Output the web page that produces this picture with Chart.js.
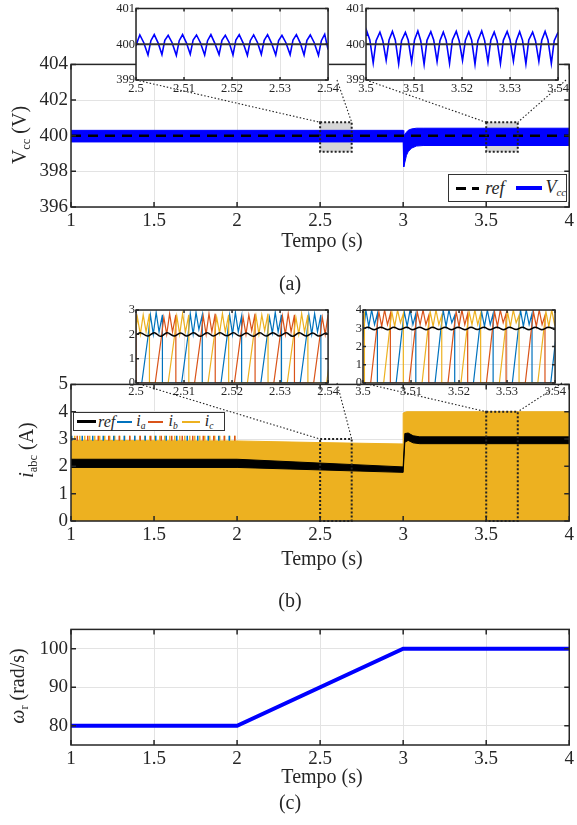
<!DOCTYPE html>
<html>
<head>
<meta charset="utf-8">
<title>Vcc, iabc e wr</title>
<script src="https://cdn.jsdelivr.net/npm/chart.js"></script>
<style>
  body { margin:0; width:577px; height:825px; position:relative; background:#fff; overflow:hidden;
         font-family:'Liberation Serif','Times New Roman',serif; color:#262626; }
  canvas { position:absolute; }
  .lbl { position:absolute; white-space:nowrap; transform:translate(-50%,-50%); font-size:20px; }
  .ylbl { transform:translate(-50%,-50%) rotate(-90deg); }
  .lbl sub { font-size:0.62em; vertical-align:-0.25em; }
  .legend { position:absolute; background:#fff; border:1px solid #333; display:flex; align-items:center; box-sizing:border-box; white-space:nowrap; }
  .legend sub { font-size:0.6em; vertical-align:-0.3em; }
  .sw { display:inline-block; }
</style>
</head>
<body>
<canvas id="mainA"></canvas>
<canvas id="mainB"></canvas>
<canvas id="mainC"></canvas>
<canvas id="insA1"></canvas>
<canvas id="insA2"></canvas>
<canvas id="insB1"></canvas>
<canvas id="insB2"></canvas>

<div class="lbl ylbl" style="left:21px;top:135px;">V<sub>cc</sub>&nbsp;(V)</div>
<div class="lbl" style="left:322px;top:240px;">Tempo (s)</div>
<div class="lbl" style="left:290px;top:283px;">(a)</div>
<div class="legend" style="left:448px;top:174px;width:119px;height:28px;font-size:18px;">
  <span class="sw" style="width:26px;height:3px;margin:0 6px 0 7px;background:repeating-linear-gradient(90deg,#000 0 10px,transparent 10px 16px);"></span><i>ref</i>
  <span class="sw" style="width:30px;height:4px;margin:0 3px 0 11px;background:#0000ff;"></span><i>V<sub>cc</sub></i>
</div>

<div class="lbl ylbl" style="left:28px;top:450px;"><i>i</i><sub>abc</sub>&nbsp;(A)</div>
<div class="lbl" style="left:322px;top:558px;">Tempo (s)</div>
<div class="lbl" style="left:290px;top:600px;">(b)</div>
<div class="legend" style="left:73px;top:412px;width:152px;height:19px;font-size:16px;">
  <span class="sw" style="width:19px;height:3px;margin:0 2px 0 3px;background:#000;"></span><i>ref</i>
  <span class="sw" style="width:15px;height:2px;margin:0 4px 0 2px;background:#0072BD;"></span><i>i<sub>a</sub></i>
  <span class="sw" style="width:15px;height:2px;margin:0 5px 0 3px;background:#D95319;"></span><i>i<sub>b</sub></i>
  <span class="sw" style="width:18px;height:2px;margin:0 5px 0 4px;background:#EDB120;"></span><i>i<sub>c</sub></i>
</div>

<div class="lbl ylbl" style="left:19px;top:686px;"><i>ω</i><sub>r</sub>&nbsp;(rad/s)</div>
<div class="lbl" style="left:322px;top:776px;">Tempo (s)</div>
<div class="lbl" style="left:290px;top:802px;">(c)</div>

<script>
// ---- data ----
const timeTicks = [1, 1.5, 2, 2.5, 3, 3.5, 4];

// (a) Vcc envelope and reference
const vccT  = [1, 3.0, 3.002, 3.005, 3.01, 3.02, 3.03, 3.05, 3.08, 3.12, 4];
const vccUp = [400.3, 400.3, 400.02, 400.0, 400.08, 400.2, 400.3, 400.38, 400.42, 400.42, 400.42];
const vccLo = [399.65, 399.65, 398.8, 398.25, 398.5, 398.9, 399.1, 399.3, 399.42, 399.45, 399.45];
const refAT = [1, 4];
const refAV = [400, 400];
const vccTicks = [396, 398, 400, 402, 404];

// (a) zoom insets
const zoomTicksA1 = [2.5, 2.51, 2.52, 2.53, 2.54];
const zoomTicksA2 = [3.5, 3.51, 3.52, 3.53, 3.54];
const zoomTicksVcc = [399, 400, 401];
const vccZoom1 = [[2.5000,399.95],[2.5004,400.12],[2.5008,400.26],[2.5016,400.05],[2.5025,399.70],[2.5031,400.10],[2.5038,400.27],
  [2.5046,400.04],[2.5054,399.71],[2.5060,400.11],[2.5067,400.25],[2.5075,400.05],[2.5084,399.69],[2.5090,400.10],[2.5097,400.27],
  [2.5105,400.04],[2.5113,399.72],[2.5119,400.12],[2.5126,400.26],[2.5134,400.05],[2.5143,399.70],[2.5149,400.10],[2.5156,400.27],
  [2.5164,400.03],[2.5173,399.71],[2.5179,400.11],[2.5186,400.25],[2.5194,400.05],[2.5202,399.70],[2.5208,400.12],[2.5215,400.27],
  [2.5223,400.04],[2.5232,399.69],[2.5238,400.10],[2.5245,400.26],[2.5253,400.05],[2.5261,399.72],[2.5267,400.11],[2.5274,400.27],
  [2.5282,400.04],[2.5291,399.70],[2.5297,400.10],[2.5304,400.25],[2.5312,400.05],[2.5321,399.71],[2.5327,400.12],[2.5334,400.27],
  [2.5342,400.04],[2.5350,399.70],[2.5356,400.11],[2.5363,400.26],[2.5371,400.05],[2.5380,399.69],[2.5386,400.10],[2.5393,400.28],[2.5400,399.85]];
const vccZoom2 = [[3.5000,400.25],[3.5002,400.35],[3.5008,400.12],[3.5015,399.48],[3.5021,400.10],[3.5029,400.34],
  [3.5035,400.10],[3.5042,399.55],[3.5048,400.12],[3.5055,400.36],[3.5061,400.12],[3.5068,399.45],[3.5074,400.10],[3.5082,400.33],
  [3.5088,400.11],[3.5095,399.50],[3.5101,400.12],[3.5108,400.37],[3.5114,400.10],[3.5121,399.44],[3.5127,400.11],[3.5135,400.35],
  [3.5141,400.12],[3.5148,399.52],[3.5154,400.10],[3.5161,400.34],[3.5167,400.11],[3.5174,399.46],[3.5180,400.12],[3.5188,400.36],
  [3.5194,400.10],[3.5201,399.55],[3.5207,400.11],[3.5214,400.35],[3.5220,400.12],[3.5227,399.44],[3.5233,400.10],[3.5241,400.37],
  [3.5247,400.11],[3.5254,399.50],[3.5260,400.12],[3.5267,400.34],[3.5273,400.10],[3.5280,399.46],[3.5286,400.11],[3.5294,400.36],
  [3.5300,400.12],[3.5307,399.53],[3.5313,400.10],[3.5320,400.35],[3.5326,400.11],[3.5333,399.45],[3.5339,400.12],[3.5347,400.34],
  [3.5353,400.10],[3.5360,399.52],[3.5366,400.11],[3.5373,400.36],[3.5379,400.12],[3.5386,399.46],[3.5392,400.10],[3.5400,400.33]];

// (b) currents: envelope of phases and reference band
const iEnvT = [1, 2, 2.5, 3.0, 3.0, 3.02, 4];
const iEnvV = [2.95, 2.93, 2.87, 2.82, 3.95, 4.0, 4.0];
const spikeT = [1, 2];
const spikeV = [3.03, 3.03];
const refBT  = [1, 2, 3.0, 3.01, 3.03, 3.06, 3.1, 4];
const refBUp = [2.26, 2.26, 1.98, 3.2, 3.22, 3.12, 3.08, 3.08];
const refBLo = [1.96, 1.96, 1.78, 2.88, 2.95, 2.86, 2.83, 2.83];
const iTicks = [0, 1, 2, 3, 4, 5];

// (b) zoom insets
const zoomTicksB1 = [0, 1, 2, 3];
const zoomTicksB2 = [0, 1, 2, 3, 4];
const icZoom1 = [[2.4985,0],[2.4998,1.9],[2.5003,2.7],[2.5009,2.0],[2.5015,2.8],[2.5021,2.1],[2.5028,2.85],[2.5028,0],
  [2.5067,0],[2.5080,1.9],[2.5085,2.75],[2.5091,2.0],[2.5097,2.85],[2.5103,2.1],[2.5110,2.8],[2.5110,0],
  [2.5150,0],[2.5163,1.9],[2.5168,2.7],[2.5174,2.05],[2.5180,2.85],[2.5186,2.1],[2.5193,2.8],[2.5193,0],
  [2.5232,0],[2.5245,1.95],[2.5250,2.75],[2.5256,2.0],[2.5262,2.8],[2.5268,2.15],[2.5275,2.85],[2.5275,0],
  [2.5315,0],[2.5328,1.9],[2.5333,2.7],[2.5339,2.0],[2.5345,2.85],[2.5351,2.1],[2.5358,2.8],[2.5358,0],
  [2.5397,0],[2.5410,1.9]];
const iaZoom1 = [[2.4973,0],
  [2.5012,0],[2.5025,1.9],[2.5030,2.8],[2.5036,2.0],[2.5042,2.9],[2.5048,2.1],[2.5055,2.8],[2.5055,0],
  [2.5095,0],[2.5108,1.9],[2.5113,2.85],[2.5119,2.0],[2.5125,2.9],[2.5131,2.2],[2.5138,2.8],[2.5138,0],
  [2.5177,0],[2.5190,1.95],[2.5195,2.8],[2.5201,2.0],[2.5207,2.9],[2.5213,2.1],[2.5220,2.75],[2.5220,0],
  [2.5260,0],[2.5273,1.9],[2.5278,2.7],[2.5284,2.05],[2.5290,2.9],[2.5296,2.1],[2.5303,2.8],[2.5303,0],
  [2.5342,0],[2.5355,1.9],[2.5360,2.8],[2.5366,2.0],[2.5372,2.85],[2.5378,2.1],[2.5385,2.8],[2.5385,0],
  [2.5420,0]];
const ibZoom1 = [[2.4990,2.5],[2.5000,2.8],[2.5000,0],
  [2.5040,0],[2.5053,1.9],[2.5058,2.7],[2.5064,2.0],[2.5070,2.85],[2.5076,2.1],[2.5083,2.8],[2.5083,0],
  [2.5122,0],[2.5135,1.9],[2.5140,2.75],[2.5146,2.0],[2.5152,2.85],[2.5158,2.1],[2.5165,2.85],[2.5165,0],
  [2.5205,0],[2.5218,1.95],[2.5223,2.7],[2.5229,2.0],[2.5235,2.8],[2.5241,2.15],[2.5248,2.85],[2.5248,0],
  [2.5287,0],[2.5300,1.9],[2.5305,2.75],[2.5311,2.0],[2.5317,2.85],[2.5323,2.1],[2.5330,2.8],[2.5330,0],
  [2.5370,0],[2.5383,1.9],[2.5388,2.7],[2.5394,2.0],[2.5400,2.8],[2.5406,2.1]];
const refZoom1 = [[2.5000,1.98],[2.5010,2.06],[2.5024,1.93],[2.5038,2.07],[2.5051,1.92],[2.5065,2.06],[2.5079,1.93],[2.5093,2.05],
  [2.5106,1.93],[2.5120,2.06],[2.5134,1.92],[2.5148,2.07],[2.5161,1.93],[2.5175,2.06],[2.5189,1.94],[2.5203,2.06],[2.5216,1.93],
  [2.5230,2.05],[2.5244,1.92],[2.5258,2.06],[2.5271,1.93],[2.5285,2.07],[2.5299,1.93],[2.5313,2.06],[2.5326,1.92],[2.5340,2.06],
  [2.5354,1.93],[2.5368,2.05],[2.5381,1.93],[2.5395,2.05],[2.5400,2.0]];
const icZoom2 = [[3.4962,0],[3.4974,2.8],[3.4979,3.9],[3.4985,3.1],[3.4991,4.0],[3.4997,3.2],[3.5003,3.8],[3.5003,0],
  [3.5043,0],[3.5055,2.8],[3.5060,3.9],[3.5066,3.1],[3.5072,4.0],[3.5078,3.3],[3.5084,3.8],[3.5084,0],
  [3.5123,0],[3.5135,2.9],[3.5140,3.9],[3.5146,3.1],[3.5152,4.0],[3.5158,3.2],[3.5164,3.7],[3.5164,0],
  [3.5204,0],[3.5216,2.8],[3.5221,3.9],[3.5227,3.2],[3.5233,4.0],[3.5239,3.2],[3.5245,3.8],[3.5245,0],
  [3.5284,0],[3.5296,2.8],[3.5301,3.9],[3.5307,3.1],[3.5313,4.0],[3.5319,3.3],[3.5325,3.7],[3.5325,0],
  [3.5364,0],[3.5376,2.8],[3.5381,3.9],[3.5387,3.1],[3.5393,4.0],[3.5399,3.2],[3.5405,3.8]];
const iaZoom2 = [[3.4989,0],[3.5001,2.8],[3.5006,4.0],[3.5012,3.1],[3.5018,4.0],[3.5024,3.2],[3.5030,3.8],[3.5030,0],
  [3.5069,0],[3.5081,2.8],[3.5086,3.9],[3.5092,3.1],[3.5098,4.0],[3.5104,3.2],[3.5110,3.8],[3.5110,0],
  [3.5150,0],[3.5162,2.9],[3.5167,4.0],[3.5173,3.1],[3.5179,4.0],[3.5185,3.3],[3.5191,3.7],[3.5191,0],
  [3.5230,0],[3.5242,2.8],[3.5247,3.9],[3.5253,3.1],[3.5259,4.0],[3.5265,3.2],[3.5271,3.8],[3.5271,0],
  [3.5311,0],[3.5323,2.8],[3.5328,4.0],[3.5334,3.1],[3.5340,4.0],[3.5346,3.2],[3.5352,3.8],[3.5352,0],
  [3.5391,0],[3.5403,2.8]];
const ibZoom2 = [[3.4976,0],
  [3.5016,0],[3.5028,2.8],[3.5033,3.9],[3.5039,3.1],[3.5045,4.0],[3.5051,3.2],[3.5057,3.8],[3.5057,0],
  [3.5096,0],[3.5108,2.8],[3.5113,3.9],[3.5119,3.2],[3.5125,4.0],[3.5131,3.2],[3.5137,3.7],[3.5137,0],
  [3.5177,0],[3.5189,2.9],[3.5194,3.9],[3.5200,3.1],[3.5206,4.0],[3.5212,3.2],[3.5218,3.8],[3.5218,0],
  [3.5257,0],[3.5269,2.8],[3.5274,3.9],[3.5280,3.1],[3.5286,4.0],[3.5292,3.3],[3.5298,3.8],[3.5298,0],
  [3.5338,0],[3.5350,2.8],[3.5355,3.9],[3.5361,3.1],[3.5367,4.0],[3.5373,3.2],[3.5379,3.7],[3.5379,0],
  [3.5418,0]];
const refZoom2 = [[3.5000,2.96],[3.5010,3.05],[3.5024,2.92],[3.5037,3.06],[3.5051,2.92],[3.5064,3.05],[3.5077,2.93],[3.5091,3.05],
  [3.5104,2.92],[3.5118,3.06],[3.5131,2.92],[3.5145,3.05],[3.5158,2.93],[3.5171,3.05],[3.5185,2.92],[3.5198,3.06],[3.5212,2.92],
  [3.5225,3.05],[3.5238,2.93],[3.5252,3.05],[3.5265,2.92],[3.5279,3.06],[3.5292,2.92],[3.5305,3.05],[3.5319,2.93],[3.5332,3.05],
  [3.5346,2.92],[3.5359,3.06],[3.5372,2.92],[3.5386,3.05],[3.5400,2.93]];

// (c) rotor speed
const wT = [1, 2, 3, 4];
const wV = [80, 80, 100, 100];
const wTicks = [80, 90, 100];

// zoom windows marked on the main plots
const zoomA = [{ x: [2.5, 2.69], y: [399.1, 400.75] }, { x: [3.5, 3.69], y: [399.1, 400.75] }];
const zoomB = [{ x: [2.5, 2.69], y: [0, 3.0] }, { x: [3.5, 3.69], y: [0, 4.0] }];

// ---- drawing ----
const FONT = '"Liberation Serif", "Times New Roman", serif';
const BLUE = '#0000ff', CA = '#0072BD', CB = '#D95319', CC = '#EDB120';
const zip = (t, v) => t.map((x, i) => [x, v[i]]);
const fmt = v => String(+(+v).toFixed(2));
Chart.defaults.font.family = FONT;

// box with inward ticks on all sides, like a MATLAB axes
Chart.register({
  id: 'frame',
  beforeDraw(chart, args, o) {
    if (!o.bg) return;
    const a = chart.chartArea, ctx = chart.ctx;
    ctx.save(); ctx.fillStyle = o.bg; ctx.fillRect(a.left, a.top, a.width, a.height); ctx.restore();
  },
  afterDraw(chart, args, o) {
    const { ctx, chartArea: a, scales: { x, y } } = chart;
    const L = o.tick || 5;
    ctx.save();
    ctx.strokeStyle = '#262626'; ctx.lineWidth = o.lw || 1.5;
    ctx.beginPath();
    x.ticks.forEach(t => {
      const p = x.getPixelForValue(t.value);
      ctx.moveTo(p, a.bottom); ctx.lineTo(p, a.bottom - L);
      ctx.moveTo(p, a.top); ctx.lineTo(p, a.top + L);
    });
    y.ticks.forEach(t => {
      const p = y.getPixelForValue(t.value);
      ctx.moveTo(a.left, p); ctx.lineTo(a.left + L, p);
      ctx.moveTo(a.right, p); ctx.lineTo(a.right - L, p);
    });
    ctx.stroke();
    ctx.strokeRect(a.left, a.top, a.width, a.height);
    ctx.restore();
  }
});

// shaded / dotted zoom rectangles and the dotted leader lines to the insets
Chart.register({
  id: 'zoomBoxes',
  beforeDatasetsDraw(chart, args, o) {
    if (!o.boxes || !o.fill) return;
    const { ctx, scales: { x, y } } = chart;
    ctx.save();
    o.boxes.forEach(b => {
      const x0 = x.getPixelForValue(b.x[0]), x1 = x.getPixelForValue(b.x[1]);
      const y0 = y.getPixelForValue(b.y[0]), y1 = y.getPixelForValue(b.y[1]);
      ctx.fillStyle = o.fill; ctx.fillRect(x0, y1, x1 - x0, y0 - y1);
    });
    ctx.restore();
  },
  afterDraw(chart, args, o) {
    if (!o.boxes) return;
    const { ctx, scales: { x, y } } = chart;
    ctx.save();
    o.boxes.forEach((b, i) => {
      const x0 = x.getPixelForValue(b.x[0]), x1 = x.getPixelForValue(b.x[1]);
      const y0 = y.getPixelForValue(b.y[0]), y1 = y.getPixelForValue(b.y[1]);
      ctx.strokeStyle = '#222'; ctx.lineWidth = 2; ctx.setLineDash([2, 2]);
      ctx.strokeRect(x0, y1, x1 - x0, y0 - y1);
      const ins = o.insets[i];
      ctx.lineWidth = 1.1; ctx.setLineDash([1.5, 2]);
      ctx.beginPath();
      ctx.moveTo(ins[0] - o.origin[0], ins[2] - o.origin[1]); ctx.lineTo(x0, y1);
      ctx.moveTo(ins[1] - o.origin[0], ins[2] - o.origin[1]); ctx.lineTo(x1, y1);
      ctx.stroke();
    });
    ctx.restore();
  }
});

function make(id, pos, ax, datasets, extra) {
  const cv = document.getElementById(id);
  cv.width = pos.w; cv.height = pos.h;
  cv.style.left = pos.left + 'px'; cv.style.top = pos.top + 'px';
  const font = { family: FONT, size: ax.fs };
  return new Chart(cv, {
    type: 'line',
    data: { datasets },
    options: {
      responsive: false, animation: false, events: [],
      layout: { autoPadding: false, padding: { top: pos.padT, right: pos.padR, left: 0, bottom: 0 } },
      elements: { point: { radius: 0 } },
      scales: {
        x: {
          type: 'linear', min: ax.xMin, max: ax.xMax,
          afterBuildTicks: s => { s.ticks = ax.xTicks.map(v => ({ value: v })); },
          afterFit: s => { s.height = ax.xH; },
          grid: { color: '#e3e3e3', drawTicks: false },
          border: { display: false },
          ticks: { font, color: '#262626', padding: ax.xPad, maxRotation: 0, autoSkip: false, callback: fmt }
        },
        y: {
          type: 'linear', min: ax.yMin, max: ax.yMax,
          afterBuildTicks: s => { s.ticks = ax.yTicks.map(v => ({ value: v })); },
          afterFit: s => { s.width = ax.yW; },
          grid: { color: '#e3e3e3', drawTicks: false },
          border: { display: false },
          ticks: { font, color: '#262626', padding: ax.yPad, autoSkip: false, callback: fmt }
        }
      },
      plugins: Object.assign({ legend: { display: false }, tooltip: { enabled: false } }, extra)
    }
  });
}

const line = (data, color, width, more) =>
  Object.assign({ data, borderColor: color, backgroundColor: color, borderWidth: width, fill: false, tension: 0, pointRadius: 0 }, more || {});

const mainAx = { xMin: 1, xMax: 4, xTicks: timeTicks, fs: 19, yW: 71, xPad: 3, yPad: 3 };

// (a)
make('mainA', { left: 0, top: 50, w: 577, h: 180, padT: 14, padR: 4 },
  Object.assign({}, mainAx, { yMin: 396, yMax: 404, yTicks: vccTicks, xH: 23 }),
  [
    line(zip(refAT, refAV), '#000', 2.5, { borderDash: [10, 7] }),
    line(zip(vccT, vccUp), BLUE, 1, { fill: '+1' }),
    line(zip(vccT, vccLo), BLUE, 1)
  ],
  { frame: { tick: 5 }, zoomBoxes: { boxes: zoomA, fill: '#d6d6d6', origin: [0, 50], insets: [[136, 337, 80], [366, 566, 80]] } });

// (b)
make('mainB', { left: 0, top: 370, w: 577, h: 180, padT: 10, padR: 4 },
  Object.assign({}, mainAx, { yMin: 0, yMax: 5, yTicks: iTicks, xH: 29 }),
  [
    line(zip(refBT, refBUp), '#000', 1, { fill: '+1' }),
    line(zip(refBT, refBLo), '#000', 1),
    line(zip(spikeT, spikeV), CA, 5, { borderDash: [1.5, 9], borderDashOffset: 0 }),
    line(zip(spikeT, spikeV), CB, 5, { borderDash: [1.5, 9], borderDashOffset: 5 }),
    line(zip(spikeT, spikeV), CC, 5, { borderDash: [1.5, 3.5], borderDashOffset: 2 }),
    line(zip(iEnvT, iEnvV), CC, 1, { fill: 'origin' })
  ],
  { frame: { tick: 5 }, zoomBoxes: { boxes: zoomB, origin: [0, 370], insets: [[136, 337, 383], [363, 562, 383]] } });

// (c)
make('mainC', { left: 0, top: 615, w: 577, h: 160, padT: 12, padR: 4 },
  Object.assign({}, mainAx, { yMin: 75, yMax: 105, yTicks: wTicks, xH: 30 }),
  [line(zip(wT, wV), BLUE, 4)],
  { frame: { tick: 5 } });

// insets
const insAx = { fs: 12.5, yW: 36, xPad: 1, yPad: 1 };
make('insA1', { left: 100, top: 0, w: 240, h: 100, padT: 4, padR: 3 },
  Object.assign({}, insAx, { xMin: 2.5, xMax: 2.54, xTicks: zoomTicksA1, yMin: 399, yMax: 401, yTicks: zoomTicksVcc, xH: 20 }),
  [line([[2.5, 400], [2.54, 400]], '#333', 2), line(vccZoom1, BLUE, 1.6, { clip: 0 })],
  { frame: { tick: 3, bg: '#fff' } });
make('insA2', { left: 330, top: 0, w: 240, h: 100, padT: 5, padR: 4 },
  Object.assign({}, insAx, { xMin: 3.5, xMax: 3.54, xTicks: zoomTicksA2, yMin: 399, yMax: 401, yTicks: zoomTicksVcc, xH: 20 }),
  [line([[3.5, 400], [3.54, 400]], '#333', 2), line(vccZoom2, BLUE, 1.6, { clip: 0 })],
  { frame: { tick: 3, bg: '#fff' } });
make('insB1', { left: 100, top: 300, w: 240, h: 105, padT: 10, padR: 3 },
  Object.assign({}, insAx, { xMin: 2.5, xMax: 2.54, xTicks: zoomTicksA1, yMin: 0, yMax: 3, yTicks: zoomTicksB1, xH: 22 }),
  [
    line(refZoom1, '#000', 1.5, { tension: 0.4, clip: 0 }),
    line(icZoom1, CC, 1.2, { clip: 0 }),
    line(ibZoom1, CB, 1.2, { clip: 0 }),
    line(iaZoom1, CA, 1.2, { clip: 0 })
  ],
  { frame: { tick: 3, bg: '#fff' } });
make('insB2', { left: 327, top: 300, w: 240, h: 105, padT: 10, padR: 5 },
  Object.assign({}, insAx, { xMin: 3.5, xMax: 3.54, xTicks: zoomTicksA2, yMin: 0, yMax: 4, yTicks: zoomTicksB2, xH: 22 }),
  [
    line(refZoom2, '#000', 1.5, { tension: 0.4, clip: 0 }),
    line(icZoom2, CC, 1.2, { clip: 0 }),
    line(ibZoom2, CB, 1.2, { clip: 0 }),
    line(iaZoom2, CA, 1.2, { clip: 0 })
  ],
  { frame: { tick: 3, bg: '#fff' } });
</script>
</body>
</html>
